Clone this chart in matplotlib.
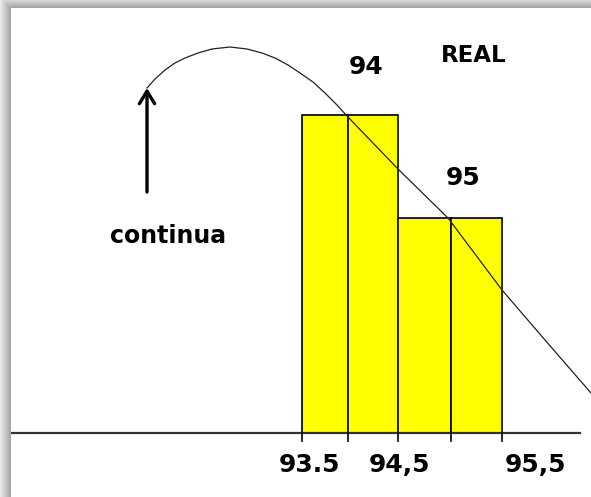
import numpy as np
import matplotlib
matplotlib.use("Agg")
import matplotlib.pyplot as plt

# class intervals (real limits) and bar heights
bar_left = [93.5, 93.96, 94.46, 94.99]
bar_width = [0.46, 0.50, 0.53, 0.51]
bar_height = [3.18, 3.18, 2.15, 2.15]

# continuous curve drawn over the bars
curve_x = [91.95, 92.03, 92.13, 92.23, 92.33, 92.46, 92.60, 92.78, 92.95,
           93.10, 93.23, 93.36, 93.48, 93.61, 93.73, 93.85, 93.95, 94.46,
           94.96, 95.50, 95.93, 96.39]
curve_y = [3.45, 3.54, 3.63, 3.70, 3.75, 3.80, 3.84, 3.86, 3.84,
           3.80, 3.75, 3.68, 3.60, 3.51, 3.40, 3.28, 3.17, 2.64,
           2.15, 1.43, 0.93, 0.40]

tick_pos = [93.5, 93.96, 94.46, 94.99, 95.5]
tick_labels = ["93.5", "94,5", "95,5"]
value_labels = ["94", "95"]

W, H = 591, 497
fig = plt.figure(figsize=(W / 100, H / 100), dpi=100)

# grey drop shadow on top and left edges
bg = fig.add_axes([0, 0, 1, 1])
yy, xx = np.mgrid[0:H, 0:W]
dx = np.clip(11 - xx, 0, None)
dy = np.clip(8 - yy, 0, None)
d = np.maximum(dx, dy)
shade = np.where(d > 0, 0.62 + 0.3 * d / 11.0, 1.0)
bg.imshow(shade, cmap="gray", vmin=0, vmax=1, extent=[0, W, H, 0], aspect="auto")
bg.axis("off")

ax = fig.add_axes([11 / W, 0, (W - 11) / W, (H - 8) / H])
ax.set_xlim(93.5 - 291 / 100, 93.5 + 289 / 100)
ax.set_ylim(-64 / 100, 425 / 100)
ax.axis("off")

ax.bar(bar_left, bar_height, width=bar_width, align="edge",
       color="#ffff00", edgecolor="black", linewidth=1.2, zorder=2)

# baseline and ticks
ax.plot([90.6, 96.28], [0, 0], color="#333333", linewidth=1.6, zorder=3)
for t in tick_pos:
    ax.plot([t, t], [0, -0.08], color="black", linewidth=1.2, zorder=3)

ax.plot(curve_x, curve_y, color="#222222", linewidth=0.9, zorder=4)

ax.annotate("", xy=(91.95, 3.45), xytext=(91.95, 2.41),
            arrowprops=dict(arrowstyle="->,head_length=0.9,head_width=0.55",
                            color="black", linewidth=2.4, shrinkA=0, shrinkB=0))

font = dict(family="DejaVu Sans", fontweight="bold", color="black")
ax.text(92.16, 1.97, "continua", ha="center", va="center", fontsize=17, **font)
ax.text(94.14, 3.66, value_labels[0], ha="center", va="center", fontsize=18, **font)
ax.text(95.11, 2.55, value_labels[1], ha="center", va="center", fontsize=18, **font)
ax.text(95.22, 3.78, "REAL", ha="center", va="center", fontsize=16.5, **font)

label_x = [93.58, 94.48, 95.84]
for x, lab in zip(label_x, tick_labels):
    ax.text(x, -0.32, lab, ha="center", va="center", fontsize=18, **font)

fig.savefig("out.png", dpi=100)
